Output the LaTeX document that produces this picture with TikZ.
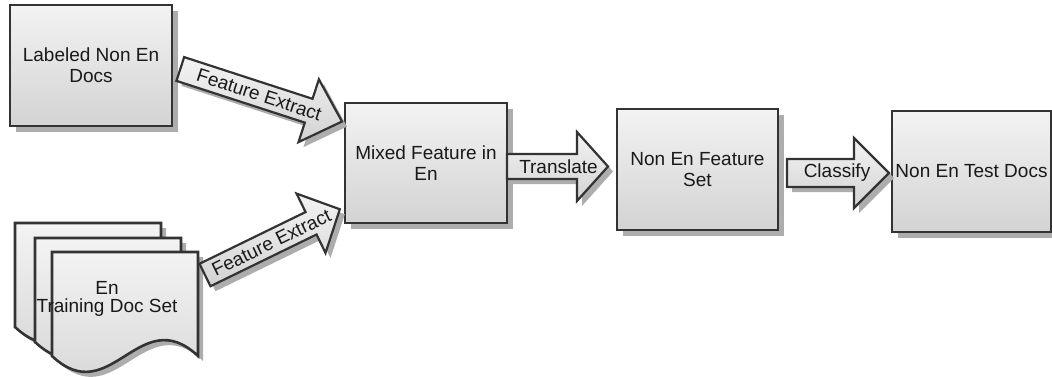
\documentclass[tikz,border=0pt]{standalone}
\usepackage{fontspec}
\setmainfont{Liberation Sans}
\usetikzlibrary{calc,shadows}
\definecolor{edge}{HTML}{333333}
\definecolor{shade}{HTML}{ADADAD}
\definecolor{fillTop}{HTML}{F3F3F3}
\definecolor{fillBot}{HTML}{D3D3D3}
\tikzset{
  lbl/.style={font=\fontsize{19}{21}\selectfont, text=black!90},
  box/.style={lbl, rectangle, draw=edge, line width=2.6pt, top color=fillTop, bottom color=fillBot,
    align=center, inner sep=0pt,
    drop shadow={shadow xshift=6pt, shadow yshift=-6pt, opacity=1, fill=shade}},
  arrowbox/.style={draw=edge, line width=2.2pt, line join=miter, top color=fillTop, bottom color=fillBot},
  arrowtext/.style={lbl, inner sep=0pt},
  docbox/.style={draw=edge, line width=2.6pt, line join=miter, top color=fillTop, bottom color=fillBot}
}
% block arrow polygon: #1 length, #2 shaft width, #3 head width, #4 head length, #5 path options
\newcommand\arrowshape[5]{\path[#5] (0,{-#2/2}) -- ({#1-#4},{-#2/2}) -- ({#1-#4},{-#3/2}) -- (#1,0)
  -- ({#1-#4},{#3/2}) -- ({#1-#4},{#2/2}) -- (0,{#2/2}) -- cycle;}
% #1 tail coordinate, #2 angle, #3..#6 geometry, #7 text, #8 text position, #9 node name
\newcommand\blockarrow[9]{%
  \begin{scope}[shift={(#1)}, xshift=5pt, yshift=-5pt, rotate=#2]
    \arrowshape{#3}{#4}{#5}{#6}{fill=shade}
  \end{scope}
  \begin{scope}[shift={(#1)}, rotate=#2, transform shape]
    \arrowshape{#3}{#4}{#5}{#6}{arrowbox}
    \node[arrowtext] (#9) at (#8,0) {#7};
  \end{scope}}
% document sheet with wavy bottom: #1 x, #2 y, #3 options
\newcommand\docpath[3]{\path[#3] (#1,#2) -- ({#1+146},#2) -- ({#1+146},{#2+104})
  .. controls ({#1+87.6},{#2+49}) and ({#1+58.4},{#2+159}) .. (#1,{#2+104}) -- cycle;}
\newcommand\docsheet[2]{%
  \begin{scope}[xshift=5pt, yshift=-5pt]\docpath{#1}{#2}{fill=shade}\end{scope}
  \docpath{#1}{#2}{docbox}}
\begin{document}
\begin{tikzpicture}[x=1pt, y=-1pt]
\useasboundingbox (0,0) rectangle (1052,377);
% boxes
\node[box, minimum width=162pt, minimum height=121pt] (b1) at (91,65.5) {Labeled Non En\\Docs};
\node[box, minimum width=162pt, minimum height=120pt] (b2) at (426,163) {Mixed Feature in\\En};
\node[box, minimum width=161pt, minimum height=121pt] (b3) at (697.5,169.5) {Non En Feature\\Set};
\node[box, minimum width=159pt, minimum height=121pt] (b4) at (971.5,171.5) {Non En Test Docs};
% document stack
\docsheet{15}{223}
\docsheet{35}{238}
\docsheet{52}{252}
\coordinate (frontR) at (198,275);
\node[lbl, font=\fontsize{19}{18}\selectfont, align=center] (docs) at (107,299) {En\\Training Doc Set};
% connectors (block arrows)
\coordinate (t1) at ($(b1.east)+(7,3.5)$);
\coordinate (t2) at ($(frontR)+(7,0)$);
\coordinate (t3) at ($(b2.east)+(-1.3,3.5)$);
\coordinate (t4) at ($(b3.east)+(7.7,3.5)$);
\blockarrow{t1}{-18}{170}{25}{66}{35}{Feature Extract}{83}{fe1}
\blockarrow{t2}{26}{150}{25}{66}{32}{Feature Extract}{74}{fe2}
\blockarrow{t3}{0}{101}{25}{69}{31}{Translate}{51.5}{tr}
\blockarrow{t4}{0}{102}{28}{70}{35}{Classify}{50}{cl}
\end{tikzpicture}
\end{document}
